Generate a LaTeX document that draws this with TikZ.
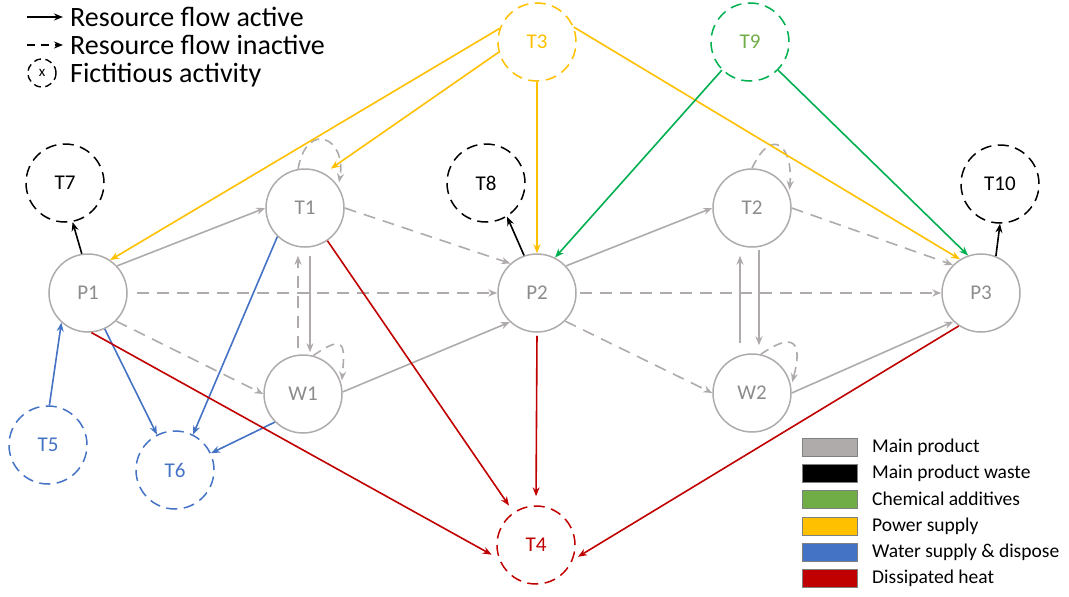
\documentclass[tikz,border=0pt]{standalone}
\usepackage{fontspec}
\setmainfont{Carlito}
\usetikzlibrary{arrows.meta}
\definecolor{prodgray}{HTML}{AFABAB}
\definecolor{labgray}{HTML}{8C8C8C}
\definecolor{powerorange}{HTML}{FFC000}
\definecolor{chemgreen}{HTML}{00B050}
\definecolor{boxgreen}{HTML}{70AD47}
\definecolor{waterblue}{HTML}{4472C4}
\definecolor{heatred}{HTML}{C00000}

\begin{document}
\begin{tikzpicture}[x=1pt,y=1pt,
  proc/.style={circle,draw=prodgray,line width=1.5pt,minimum size=78pt,inner sep=0pt,
    text=labgray,font=\fontsize{21}{24}\selectfont},
  fict/.style={proc,dash pattern=on 11pt off 6.5pt},
  flow/.style={line width=1.6pt,-{Stealth[length=9pt,width=7pt]}},
  idle/.style={flow,dash pattern=on 12pt off 8pt},
  keybox/.style={draw=gray,line width=0.8pt,minimum width=55pt,minimum height=18pt,inner sep=0pt},
  keytext/.style={anchor=west,inner sep=0pt,font=\fontsize{19.5}{22}\selectfont},
  bigtext/.style={anchor=base west,inner sep=0pt,font=\fontsize{28}{30}\selectfont}]
\useasboundingbox (0,0) rectangle (1069,-597);

% main activities
\node[proc] (P1) at (88,-293) {P1};
\node[proc] (T1) at (305,-208) {T1};
\node[proc] (W1) at (303,-394) {W1};
\node[proc] (P2) at (537,-293) {P2};
\node[proc] (T2) at (752,-208) {T2};
\node[proc] (W2) at (752,-393) {W2};
\node[proc] (P3) at (981,-293) {P3};

% fictitious activities
\node[fict,draw=black,text=black] (T7) at (65,-183) {T7};
\node[fict,draw=black,text=black] (T8) at (486,-183) {T8};
\node[fict,draw=black,text=black] (T10) at (1000,-184) {T10};
\node[fict,draw=powerorange,text=powerorange] (T3) at (537,-42) {T3};
\node[fict,draw=chemgreen,text=boxgreen] (T9) at (750,-42) {T9};
\node[fict,draw=waterblue,text=waterblue] (T5) at (48,-445) {T5};
\node[fict,draw=waterblue,text=waterblue] (T6) at (175,-470) {T6};
\node[fict,draw=heatred,text=heatred] (T4) at (536,-545) {T4};

% main product
\draw[flow,prodgray] (P1.43) -- (T1.west);
\draw[idle,prodgray,shorten <=9pt] (P1) -- (P2);
\draw[idle,prodgray] (P1.-45) -- (W1.west);
\draw[idle,prodgray] (T1.east) -- (P2.132);
\draw[flow,prodgray,shorten <=8pt,shorten >=2pt] ([xshift=5pt]T1.south) -- ([xshift=7pt]W1.north);
\draw[idle,prodgray,shorten <=6pt,shorten >=8pt] ([xshift=-5pt]W1.north) -- ([xshift=-7pt]T1.south);
\draw[flow,prodgray] (W1.3) -- (P2.-133);
\draw[flow,prodgray] (P2.43) -- (T2.west);
\draw[idle,prodgray,shorten <=3pt] (P2) -- (P3);
\draw[idle,prodgray] (P2.-45) -- (W2.west);
\draw[idle,prodgray] (T2.east) -- (P3.135);
\draw[flow,prodgray,shorten <=2pt,shorten >=8pt] ([xshift=7pt]T2.south) -- ([xshift=7pt]W2.north);
\draw[flow,prodgray,shorten <=10pt,shorten >=8pt] ([xshift=-12pt]W2.north) -- ([xshift=-12pt]T2.south);
\draw[flow,prodgray] (W2.east) -- (P3.-134);
\draw[idle,prodgray,dash pattern=on 9pt off 6pt,shorten >=4pt] (T1.100) to[out=80,in=80,looseness=2.9] (T1.33);
\draw[idle,prodgray,dash pattern=on 9pt off 6pt,shorten >=4pt] (W1.75) to[out=35,in=85,looseness=2.5] (W1.14);
\draw[idle,prodgray,dash pattern=on 9pt off 6pt,shorten >=4pt] (T2.90) to[out=65,in=85,looseness=2.7] (T2.21);
\draw[idle,prodgray,dash pattern=on 9pt off 6pt,shorten >=4pt] (W2.77) to[out=35,in=75,looseness=2.5] (W2.10);

% main product waste
\draw[flow,black] (P1.99) -- (T7.-79);
\draw[flow,black] (P2.109) -- (T8.-58);
\draw[flow,black] (P3.68) -- (T10.-90);

% power supply
\draw[flow,powerorange] (T3.160) -- (P1.56);
\draw[flow,powerorange,shorten >=8pt] (T3.195) -- (T1.61);
\draw[flow,powerorange] (T3.south) -- (P2.north);
\draw[flow,powerorange] (T3.22) -- (P3.122);

% chemical additives
\draw[flow,chemgreen] (T9.-135) -- (P2.63);
\draw[flow,chemgreen] (T9.-45) -- (P3.109);

% water supply & dispose
\draw[flow,waterblue] (T5.88) -- (P1.-132);
\draw[flow,waterblue] (P1.-65) -- (T6.117);
\draw[flow,waterblue] (T1.-134) -- (T6.63);
\draw[flow,waterblue] (W1.-135) -- (T6.25);

% dissipated heat
\draw[flow,heatred,shorten >=8pt] (P1.-85) -- (T4.200);
\draw[flow,heatred,shorten >=8pt] (T1) -- (T4);
\draw[flow,heatred,shorten <=3pt,shorten >=9pt] (P2.south) -- (T4.north);
\draw[flow,heatred,shorten >=6pt] (P3.-124) -- (T4.-22);

% legend, flows
\coordinate (fullA) at (27,-17);
\coordinate (fullB) at (63,-17);
\coordinate (idleA) at (27,-45);
\coordinate (idleB) at (63,-45);
\draw[flow,black,line width=1.8pt] (fullA) -- (fullB);
\draw[flow,black,line width=1.8pt,dash pattern=on 8pt off 6pt] (idleA) -- (idleB);
\node[circle,draw=black,line width=1.4pt,dash pattern=on 7pt off 4.5pt,minimum size=28pt,inner sep=0pt,
  font=\fontsize{15}{17}\selectfont] (fictkey) at (42,-73) {x};
\node[bigtext] (fulltext) at (70,-26) {Resource flow active};
\node[bigtext] (idletext) at (70,-54) {Resource flow inactive};
\node[bigtext] (fictext) at (70,-82) {Fictitious activity};

% legend, resources
\node[keybox,fill=prodgray] (boxA) at (830,-447) {};
\node[keybox,fill=black] (boxB) at (830,-473) {};
\node[keybox,fill=boxgreen] (boxC) at (830,-499) {};
\node[keybox,fill=powerorange] (boxD) at (830,-526) {};
\node[keybox,fill=waterblue] (boxE) at (830,-552) {};
\node[keybox,fill=heatred] (boxF) at (830,-578) {};
\node[keytext] (textA) at (872,-447) {Main product};
\node[keytext] (textB) at (872,-473) {Main product waste};
\node[keytext] (textC) at (872,-499) {Chemical additives};
\node[keytext] (textD) at (872,-526) {Power supply};
\node[keytext] (textE) at (872,-552) {Water supply \& dispose};
\node[keytext] (textF) at (872,-578) {Dissipated heat};
\end{tikzpicture}
\end{document}
